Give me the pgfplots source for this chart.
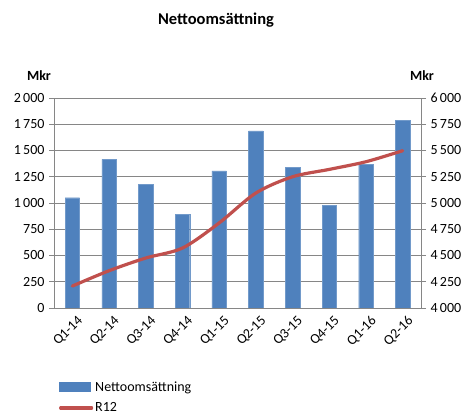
\documentclass[border=0pt]{standalone}
\usepackage{pgfplots}
\pgfplotsset{compat=1.18}
\usepackage{fontspec}
\setmainfont{Carlito}
\definecolor{barblue}{HTML}{4F81BD}
\definecolor{linered}{HTML}{C0504D}
\definecolor{axgray}{HTML}{868686}
\pgfplotstableread{
x val r12
0 1050 4209
1 1416 4355
2 1178 4476
3 895 4571
4 1305 4810
5 1686 5095
6 1340 5250
7 978 5320
8 1371 5393
9 1787 5498
}\data
\begin{document}
\begin{tikzpicture}[x=1pt,y=1pt]
\useasboundingbox (0,0) rectangle (470,414);
\node[font=\fontsize{16.5}{18}\selectfont\bfseries] at (216,394) {Nettoomsättning};
\node[font=\fontsize{14}{16}\selectfont\bfseries] at (39,338) {Mkr};
\node[font=\fontsize{14}{16}\selectfont\bfseries] at (422,338) {Mkr};
\pgfplotsset{
  common/.style={
    at={(54pt,106pt)}, anchor=south west,
    scale only axis, width=367pt, height=210pt,
    xmin=-0.5, xmax=9.5,
    ticklabel style={font=\fontsize{14}{16}\selectfont},
    /pgf/number format/assume math mode=true,
    /pgf/number format/1000 sep={\,},
    tick style={axgray, line width=0.8pt},
    major tick length=5pt,
    axis line style={axgray, line width=0.8pt},
  }
}
\begin{axis}[common,
  ymin=0, ymax=2000, ytick={0,250,...,2000},
  axis y line*=left, axis x line*=bottom,
  ymajorgrids, grid style={axgray, line width=0.8pt},
  xtick={0,...,9},
  xticklabels={Q1-14,Q2-14,Q3-14,Q4-14,Q1-15,Q2-15,Q3-15,Q4-15,Q1-16,Q2-16},
  xtick style={draw=none},
  minor xtick={-0.5,0.5,...,9.5},
  minor tick length=5pt,
  minor tick style={axgray, line width=0.8pt},
  xtick align=outside, ytick align=outside,
  x tick label style={rotate=45, anchor=north east, inner sep=0pt, yshift=-4pt, xshift=2pt},
  y tick label style={xshift=-1pt},
  ybar, bar width=14.5pt,
]
\addplot[fill=barblue, draw=barblue!80!white, line width=0.4pt] table[x=x,y=val]{\data};
\end{axis}
\begin{axis}[common,
  ymin=4000, ymax=6000, ytick={4000,4250,...,6000},
  axis y line*=right, axis x line=none,
  ytick align=outside,
  y tick label style={xshift=1pt},
  legend style={at={(0.005,-0.33)}, anchor=north west, draw=none, fill=none,
    font=\fontsize{14}{16}\selectfont, row sep=6pt,
    /tikz/every even column/.append style={column sep=2pt}},
  legend cell align=left,
]
\addlegendimage{legend image code/.code={\fill[barblue] (0pt,-4.5pt) rectangle (31pt,4.5pt);}}
\addlegendentry{Nettoomsättning}
\addplot[linered, line width=3.2pt, smooth, line cap=round,
  legend image code/.code={\draw[linered, line width=3.2pt, line cap=round] (1pt,0pt) -- (32pt,0pt);}]
  table[x=x,y=r12]{\data};
\addlegendentry{R12}
\end{axis}
\end{tikzpicture}
\end{document}
